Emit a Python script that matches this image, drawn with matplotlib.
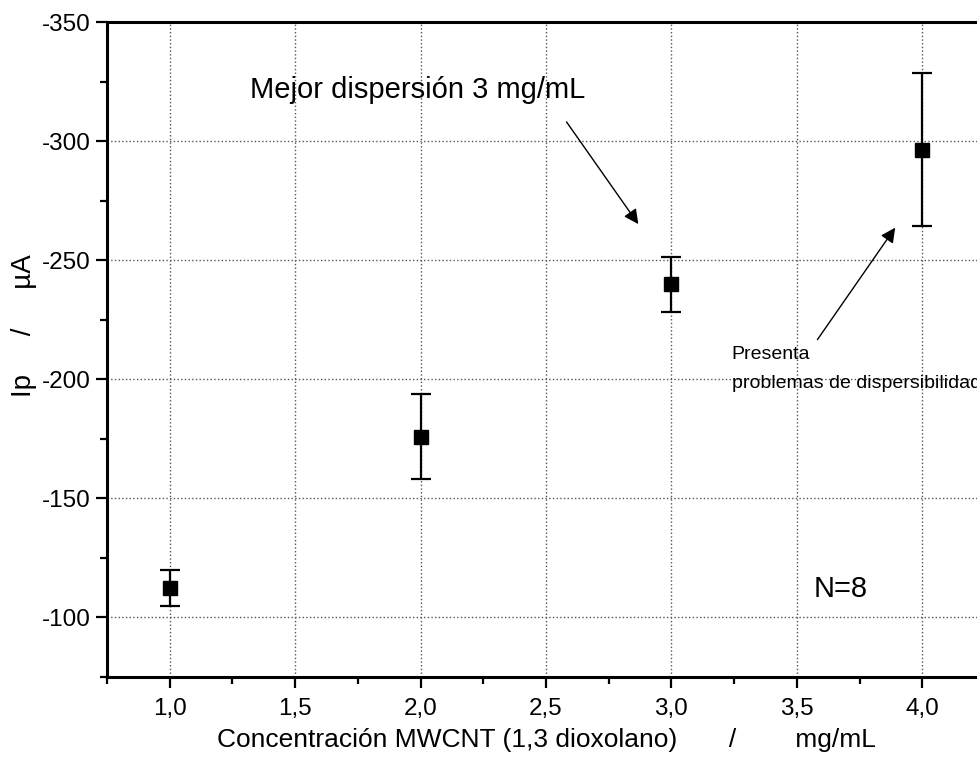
import numpy as np
import matplotlib
matplotlib.use("Agg")
import matplotlib.pyplot as plt
from matplotlib.ticker import MultipleLocator, FuncFormatter

plt.rcParams["font.family"] = ["Liberation Sans", "DejaVu Sans"]

# MWCNT concentration (mg/mL) vs peak current (uA), N=8
conc = [1.0, 2.0, 3.0, 4.0]
ip = [-112.5, -176.0, -240.0, -296.5]
ip_err = [7.5, 18.0, 11.5, 32.0]

fig = plt.figure(figsize=(9.77, 7.65), dpi=100)
ax = fig.add_axes([0.1095, 0.115, 0.8987, 0.856])

ax.errorbar(conc, ip, yerr=ip_err, fmt="s", color="black", ms=9.5,
            elinewidth=1.6, capsize=7, capthick=1.6, zorder=3)

ax.set_xlim(0.75, 4.25)
ax.set_ylim(-75, -350)

ax.xaxis.set_major_locator(MultipleLocator(0.5))
ax.xaxis.set_minor_locator(MultipleLocator(0.25))
ax.yaxis.set_major_locator(MultipleLocator(50))
ax.yaxis.set_minor_locator(MultipleLocator(25))
ax.xaxis.set_major_formatter(FuncFormatter(lambda v, p: f"{v:.1f}".replace(".", ",")))
ax.yaxis.set_major_formatter(FuncFormatter(lambda v, p: f"{v:.0f}"))

ax.grid(True, which="major", linestyle=":", color="#555555", lw=1)
ax.set_axisbelow(True)

for side in ["left", "bottom", "top", "right"]:
    ax.spines[side].set_linewidth(2.2)

ax.tick_params(which="major", direction="out", length=8, width=1.6,
               labelsize=17.5, pad=4)
ax.tick_params(axis="x", which="major", pad=7)
ax.tick_params(which="minor", direction="out", length=5, width=1.6)
ax.tick_params(top=False, right=False, which="both")

ax.set_xlabel("Concentración MWCNT (1,3 dioxolano)       /        mg/mL", fontsize=19, labelpad=6)
ax.set_ylabel("Ip     /     µA", fontsize=20)
ax.yaxis.set_label_coords(-0.08, 0.537)

ax.text(1.319, -321.4, "Mejor dispersión 3 mg/mL", fontsize=21, va="center", ha="left")
ax.annotate("", xy=(2.868, -265.2), xytext=(2.582, -308.1),
            arrowprops=dict(arrowstyle="-|>", color="black", lw=1,
                            mutation_scale=22, shrinkA=0, shrinkB=0))

# the second line runs off the right edge of the canvas, as in the source figure
ax.text(3.24, -208.5, "Presenta", fontsize=14, ha="left", va="baseline")
ax.text(3.24, -196.3, "problemas de dispersibilidad", fontsize=14, ha="left", va="baseline")
ax.annotate("", xy=(3.892, -263.7), xytext=(3.582, -216.7),
            arrowprops=dict(arrowstyle="-|>", color="black", lw=1,
                            mutation_scale=22, shrinkA=0, shrinkB=0))

ax.text(3.673, -112.1, "N=8", fontsize=21, ha="center", va="center")

fig.savefig("out.png", dpi=100)
